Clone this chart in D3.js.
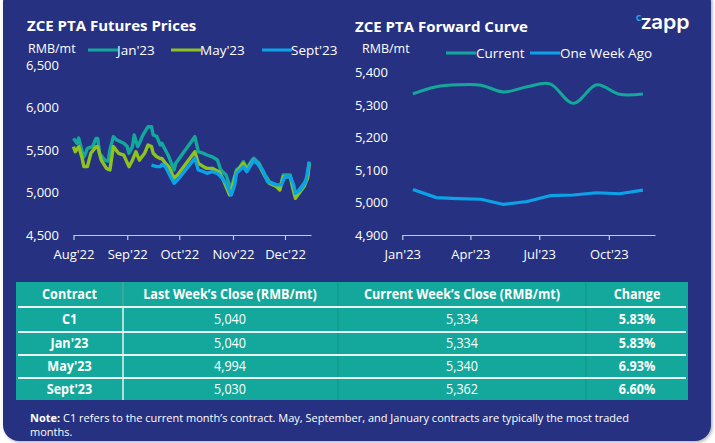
<!DOCTYPE html>
<html><head><meta charset="utf-8">
<script src="https://cdn.jsdelivr.net/npm/d3@7"></script>
<style>
html,body{margin:0;padding:0;background:#fff;}
svg{display:block;font-family:"Open Sans",sans-serif;}
</style></head><body>
<svg id="c" width="715" height="443"></svg>
<script>
// ---------- DATA ----------
const futuresSeries = ["Jan'23","May'23","Sept'23"];
const jan23Dates = ["2022-08-01","2022-08-03","2022-08-04","2022-08-06","2022-08-07","2022-08-08","2022-08-09","2022-08-12","2022-08-14","2022-08-15","2022-08-16","2022-08-19","2022-08-21","2022-08-22","2022-08-24","2022-08-26","2022-08-30","2022-09-01","2022-09-02","2022-09-04","2022-09-05","2022-09-07","2022-09-08","2022-09-10","2022-09-13","2022-09-15","2022-09-16","2022-09-18","2022-09-20","2022-09-21","2022-09-23","2022-09-25","2022-09-28","2022-09-29","2022-10-10","2022-10-12","2022-10-15","2022-10-17","2022-10-20","2022-10-23","2022-10-25","2022-10-28","2022-10-31","2022-11-01","2022-11-03","2022-11-05","2022-11-07","2022-11-09","2022-11-12","2022-11-13","2022-11-16","2022-11-19","2022-11-22","2022-11-26","2022-11-28","2022-11-30","2022-12-04","2022-12-06","2022-12-07","2022-12-09","2022-12-12","2022-12-14","2022-12-15"];
const jan23Values = [5637,5579,5640,5480,5420,5461,5520,5540,5637,5637,5460,5382,5370,5500,5657,5618,5579,5540,5461,5540,5676,5540,5579,5676,5774,5774,5676,5660,5559,5580,5500,5420,5265,5343,5657,5480,5460,5441,5420,5382,5265,5206,5030,5127,5265,5300,5362,5284,5382,5402,5343,5226,5127,5090,5049,5206,5206,5030,4971,5030,5108,5186,5362];
const may23Dates = ["2022-08-01","2022-08-02","2022-08-04","2022-08-06","2022-08-07","2022-08-09","2022-08-11","2022-08-14","2022-08-15","2022-08-17","2022-08-20","2022-08-22","2022-08-24","2022-08-27","2022-08-30","2022-09-02","2022-09-04","2022-09-06","2022-09-08","2022-09-11","2022-09-13","2022-09-15","2022-09-16","2022-09-18","2022-09-20","2022-09-21","2022-09-23","2022-09-25","2022-09-28","2022-09-30","2022-10-10","2022-10-12","2022-10-15","2022-10-17","2022-10-20","2022-10-24","2022-10-26","2022-10-30","2022-11-01","2022-11-03","2022-11-05","2022-11-07","2022-11-09","2022-11-12","2022-11-13","2022-11-16","2022-11-19","2022-11-22","2022-11-26","2022-11-28","2022-11-30","2022-12-04","2022-12-06","2022-12-07","2022-12-09","2022-12-12","2022-12-14","2022-12-15"];
const may23Values = [5540,5480,5540,5402,5304,5304,5461,5540,5540,5380,5284,5265,5540,5461,5440,5304,5380,5480,5380,5461,5559,5540,5461,5420,5400,5400,5343,5304,5167,5206,5480,5343,5304,5284,5284,5245,5167,4971,5090,5245,5290,5343,5265,5360,5382,5323,5206,5108,5070,5030,5186,5186,5010,4932,4990,5070,5167,5340];
const sep23Dates = ["2022-09-15","2022-09-18","2022-09-20","2022-09-21","2022-09-23","2022-09-26","2022-09-28","2022-09-30","2022-10-10","2022-10-12","2022-10-15","2022-10-17","2022-10-20","2022-10-23","2022-10-25","2022-10-28","2022-10-31","2022-11-02","2022-11-03","2022-11-07","2022-11-09","2022-11-13","2022-11-15","2022-11-18","2022-11-21","2022-11-26","2022-11-29","2022-12-01","2022-12-04","2022-12-06","2022-12-07","2022-12-10","2022-12-13","2022-12-15"];
const sep23Values = [5323,5304,5304,5330,5304,5186,5108,5147,5402,5265,5245,5226,5245,5226,5186,5108,4971,5090,5226,5304,5245,5382,5343,5265,5127,5090,5090,5186,5186,5090,4990,5030,5127,5362];
const leftYTicks = [4500,5000,5500,6000,6500];
const leftXTickLabels = ["Aug'22","Sep'22","Oct'22","Nov'22","Dec'22"];

const curveSeries = ["Current","One Week Ago"];
const curveMonths = ["2023-01-15","2023-02-15","2023-03-15","2023-04-15","2023-05-15","2023-06-15","2023-07-15","2023-08-15","2023-09-15","2023-10-15","2023-11-15"];
const currentValues = [5334,5356,5362,5361,5340,5356,5365,5305,5362,5333,5334];
const weekAgoValues = [5040,5015,5012,5010,4994,5003,5021,5023,5030,5027,5038];
const rightYTicks = [4900,5000,5100,5200,5300,5400];
const rightXTickLabels = ["Jan'23","Apr'23","Jul'23","Oct'23"];

const tableHeader = ["Contract","Last Week\u2019s Close (RMB/mt)","Current Week\u2019s Close (RMB/mt)","Change"];
const tableContracts = ["C1","Jan'23","May'23","Sept'23"];
const tableLastWeek = ["5,040","5,040","4,994","5,030"];
const tableCurrentWeek = ["5,334","5,334","5,340","5,362"];
const tableChange = ["5.83%","5.83%","6.93%","6.60%"];

// ---------- STYLE ----------
const NAVY = "#283381", TEAL = "#13a89b", GREEN = "#8dc21f", BLUE = "#0ba3e8", AXIS = "#c8cbd6";
const svg = d3.select("#c");
const parse = d3.timeParse("%Y-%m-%d");

const defs = svg.append("defs");
const f = defs.append("filter").attr("id","sh").attr("x","-5%").attr("y","-5%").attr("width","110%").attr("height","110%");
f.append("feDropShadow").attr("dx",1.5).attr("dy",1.5).attr("stdDeviation",1.5).attr("flood-color","#000").attr("flood-opacity",0.3);

svg.append("rect").attr("x",3).attr("y",-14).attr("width",708).attr("height",455).attr("rx",16)
  .attr("fill",NAVY).attr("filter","url(#sh)");

// ---------- LEFT CHART ----------
const xL = d3.scaleTime().domain([parse("2022-08-01"), parse("2022-12-16")]).range([73.5, 311]);
const yL = d3.scaleLinear().domain([4500,6500]).range([235,65]);

svg.append("text").attr("x",27).attr("y",31).attr("fill","#fff").attr("font-size",15).attr("font-weight",700).text("ZCE PTA Futures Prices");
svg.append("text").attr("x",28).attr("y",53).attr("fill","#fff").attr("font-size",12.5).text("RMB/mt");

const lColors = [TEAL, GREEN, BLUE];
const legL = [[88,"Jan'23"],[171,"May'23"],[262,"Sept'23"]];
legL.forEach((d,i)=>{
  svg.append("line").attr("x1",d[0]).attr("x2",d[0]+30).attr("y1",50).attr("y2",50).attr("stroke",lColors[i]).attr("stroke-width",3);
  svg.append("text").attr("x",d[0]+29).attr("y",54.5).attr("fill","#fff").attr("font-size",13.5).text(futuresSeries[i]);
});

const gyL = svg.append("g").attr("transform","translate(59,0)")
  .call(d3.axisLeft(yL).tickValues(leftYTicks).tickSize(0).tickFormat(d3.format(",")));
gyL.select(".domain").remove();
gyL.selectAll("text").attr("fill","#fff").attr("font-size",13).attr("font-family","Open Sans").attr("x",0);

const monthsL = leftXTickLabels.map((_,i)=>d3.timeMonth.offset(parse("2022-08-01"), i));
const gxL = svg.append("g").attr("transform","translate(0,235)")
  .call(d3.axisBottom(xL).tickValues(monthsL).tickSize(5).tickSizeOuter(0).tickFormat((d,i)=>leftXTickLabels[i]));
gxL.select(".domain").attr("stroke",AXIS).attr("stroke-width",1.2);
gxL.selectAll("line").attr("stroke",AXIS).attr("stroke-width",1.2);
gxL.selectAll("text").attr("fill","#fff").attr("font-size",13).attr("font-family","Open Sans").attr("dy","1.25em");

const lineL = d3.line().x(d=>xL(d[0])).y(d=>yL(d[1]));
const seriesL = [[jan23Dates,jan23Values],[may23Dates,may23Values],[sep23Dates,sep23Values]];
seriesL.forEach((s,i)=>{
  const pts = s[0].map((d,j)=>[parse(d), s[1][j]]);
  svg.append("path").datum(pts).attr("d",lineL).attr("fill","none").attr("stroke",lColors[i])
    .attr("stroke-width",3.4).attr("stroke-linejoin","round");
});

// ---------- RIGHT CHART ----------
const xR = d3.scaleTime().domain([parse("2023-01-01"), parse("2023-12-01")]).range([402.3, 655]);
const yR = d3.scaleLinear().domain([4900,5400]).range([235,72.5]);

svg.append("text").attr("x",355).attr("y",32).attr("fill","#fff").attr("font-size",15).attr("font-weight",700).text("ZCE PTA Forward Curve");
svg.append("text").attr("x",362).attr("y",53).attr("fill","#fff").attr("font-size",12.5).text("RMB/mt");

const rColors = [TEAL, BLUE];
const legR = [[446,"Current"],[530,"One Week Ago"]];
legR.forEach((d,i)=>{
  svg.append("line").attr("x1",d[0]).attr("x2",d[0]+30).attr("y1",53).attr("y2",53).attr("stroke",rColors[i]).attr("stroke-width",3);
  svg.append("text").attr("x",d[0]+30).attr("y",58).attr("fill","#fff").attr("font-size",13.5).text(curveSeries[i]);
});

const gyR = svg.append("g").attr("transform","translate(388,0)")
  .call(d3.axisLeft(yR).tickValues(rightYTicks).tickSize(0).tickFormat(d3.format(",")));
gyR.select(".domain").remove();
gyR.selectAll("text").attr("fill","#fff").attr("font-size",13).attr("font-family","Open Sans").attr("x",0);

const monthsR = rightXTickLabels.map((_,i)=>d3.timeMonth.offset(parse("2023-01-01"), i*3));
const gxR = svg.append("g").attr("transform","translate(0,235)")
  .call(d3.axisBottom(xR).tickValues(monthsR).tickSize(5).tickSizeOuter(0).tickFormat((d,i)=>rightXTickLabels[i]));
gxR.select(".domain").attr("stroke",AXIS).attr("stroke-width",1.2);
gxR.selectAll("line").attr("stroke",AXIS).attr("stroke-width",1.2);
gxR.selectAll("text").attr("fill","#fff").attr("font-size",13).attr("font-family","Open Sans").attr("dy","1.25em");

const lineRc = d3.line().x(d=>xR(d[0])).y(d=>yR(d[1])).curve(d3.curveCatmullRom.alpha(0.5));
const lineRw = d3.line().x(d=>xR(d[0])).y(d=>yR(d[1]));
svg.append("path").datum(curveMonths.map((d,j)=>[parse(d), currentValues[j]])).attr("d",lineRc)
  .attr("fill","none").attr("stroke",TEAL).attr("stroke-width",3);
svg.append("path").datum(curveMonths.map((d,j)=>[parse(d), weekAgoValues[j]])).attr("d",lineRw)
  .attr("fill","none").attr("stroke",BLUE).attr("stroke-width",3.2).attr("stroke-linejoin","round");

// logo
const logo = svg.append("text").attr("x",636).attr("y",29).attr("font-family","Nunito, 'Open Sans', sans-serif");
logo.append("tspan").attr("fill","#1fa8e8").attr("font-size",11).attr("font-weight",700).attr("dy",-8).text("c");
logo.append("tspan").attr("fill","#fff").attr("font-size",22).attr("font-weight",700).attr("dy",8).attr("dx",-0.5).text("zapp");

// ---------- TABLE ----------
const colX = [16,123,338,586,688];
const rowY = [282,307,332,355,378,400];
svg.append("rect").attr("x",colX[0]).attr("y",rowY[0]).attr("width",colX[4]-colX[0]).attr("height",rowY[5]-rowY[0]).attr("fill",TEAL);
[1,2,3].forEach(i=>{
  svg.append("line").attr("x1",colX[i]).attr("x2",colX[i]).attr("y1",rowY[0]).attr("y2",rowY[5])
    .attr("stroke", i===1 ? "#e6f3f1" : "#109488").attr("stroke-width", i===1 ? 1.5 : 1);
});
svg.append("line").attr("x1",colX[1]).attr("x2",colX[1]).attr("y1",rowY[0]).attr("y2",rowY[1]).attr("stroke","#109488").attr("stroke-width",1.5);
[1,2,3,4].forEach(i=>{
  svg.append("line").attr("x1",colX[0]+2).attr("x2",colX[4]-2).attr("y1",rowY[i]).attr("y2",rowY[i]).attr("stroke","#e6f3f1").attr("stroke-width",1.8);
});
const cx = [69.5,230,462,637];
const tfont = "'Open Sans', sans-serif";
tableHeader.forEach((h,i)=>{
  svg.append("text").attr("x",cx[i]).attr("y",(rowY[0]+rowY[1])/2+5).attr("text-anchor","middle")
    .attr("fill","#fff").attr("font-size",14).attr("font-weight",700).attr("font-family",tfont)
    .attr("transform",`translate(${cx[i]},0) scale(0.9,1) translate(${-cx[i]},0)`).text(h);
});
tableContracts.forEach((c,r)=>{
  const y = (rowY[r+1]+rowY[r+2])/2+5;
  const cells = [c, tableLastWeek[r], tableCurrentWeek[r], tableChange[r]];
  cells.forEach((t,i)=>{
    svg.append("text").attr("x",cx[i]).attr("y",y).attr("text-anchor","middle").attr("fill","#fff")
      .attr("font-size",14).attr("font-weight",(i===0||i===3)?700:400).attr("font-family",tfont)
      .attr("transform",`translate(${cx[i]},0) scale(0.9,1) translate(${-cx[i]},0)`).text(t);
  });
});

// note
const note = svg.append("text").attr("x",30).attr("y",422).attr("fill","#fff").attr("font-size",11).attr("font-family",tfont);
note.append("tspan").attr("font-weight",700).text("Note:");
note.append("tspan").text(" C1 refers to the current month\u2019s contract. May, September, and January contracts are typically the most traded");
svg.append("text").attr("x",30).attr("y",436).attr("fill","#fff").attr("font-size",11).attr("font-family",tfont).text("months.");
</script>
</body></html>
